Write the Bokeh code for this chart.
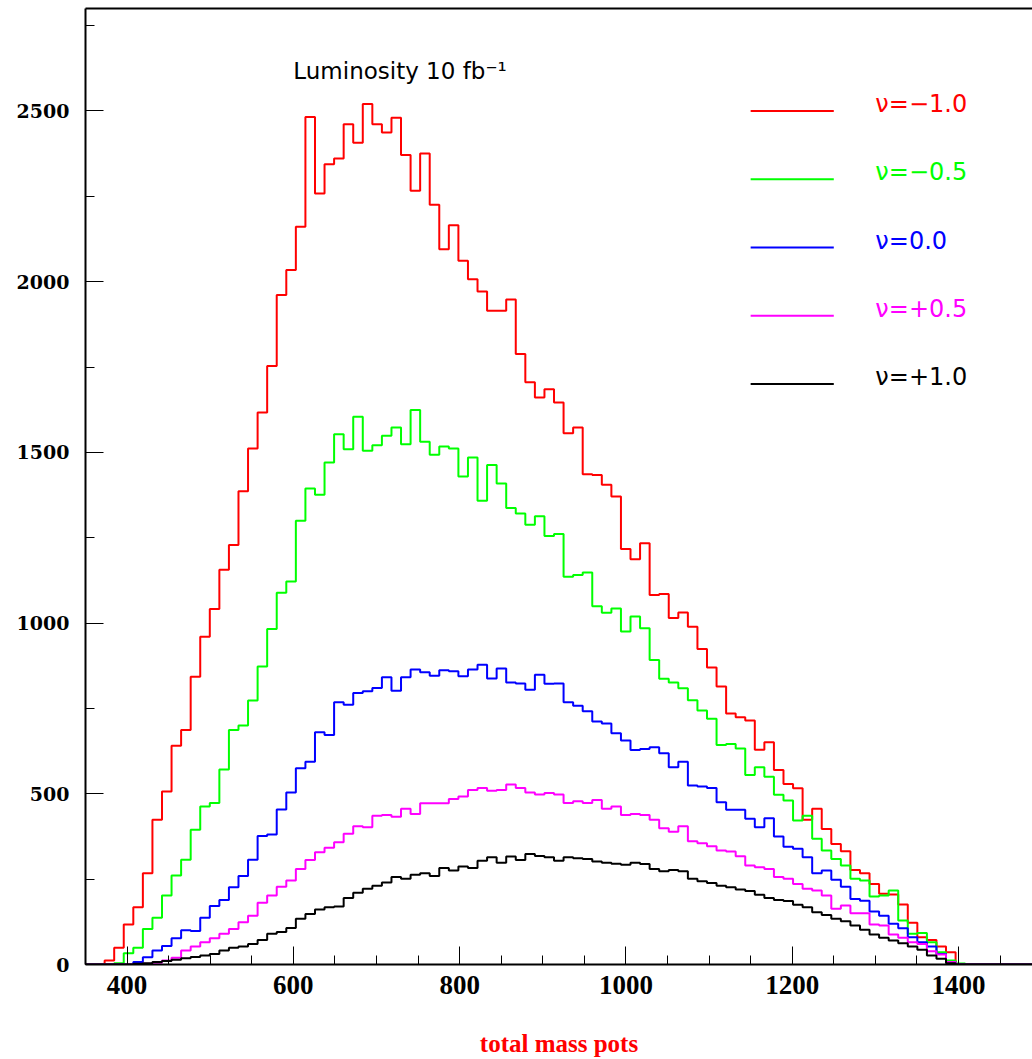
import numpy as np
from bokeh.plotting import figure
from bokeh.models import Label, SingleIntervalTicker, FixedTicker, Range1d, LinearAxis
from bokeh.embed import file_html
from bokeh.resources import INLINE
from bokeh.core.properties import value

# ---------------- data ----------------
# histogram: 100 bins of width 11.5 from 350 to 1500; values listed from bin 2 (edge 373) to bin 91
hist_lo = 350.0
hist_hi = 1500.0
n_bins = 100
first_bin = 2

nu_labels = ["\u03bd=\u22121.0", "\u03bd=\u22120.5", "\u03bd=0.0", "\u03bd=+0.5", "\u03bd=+1.0"]

counts_m10 = [12, 49, 117, 168, 267, 424, 507, 641, 687, 843, 960, 1041, 1156, 1229, 1386, 1511, 1617,
              1753, 1961, 2034, 2161, 2482, 2258, 2344, 2361, 2461, 2407, 2520, 2461, 2437, 2480, 2371,
              2266, 2375, 2225, 2095, 2165, 2061, 2007, 1971, 1915, 1915, 1948, 1788, 1705, 1661, 1685,
              1646, 1556, 1573, 1436, 1434, 1405, 1371, 1217, 1187, 1234, 1082, 1085, 1015, 1031, 989,
              924, 870, 814, 735, 724, 715, 629, 651, 570, 529, 516, 424, 456, 397, 353, 332, 277, 267,
              236, 207, 205, 176, 122, 80, 72, 53, 36, 0]
counts_m05 = [0, 4, 33, 49, 104, 137, 202, 261, 307, 395, 463, 473, 571, 687, 700, 773, 873, 983, 1089,
              1122, 1300, 1394, 1376, 1470, 1553, 1509, 1604, 1505, 1521, 1549, 1573, 1524, 1624, 1531,
              1493, 1517, 1511, 1429, 1485, 1358, 1463, 1409, 1337, 1321, 1288, 1313, 1255, 1261, 1136,
              1141, 1148, 1049, 1030, 1043, 975, 1019, 985, 892, 837, 826, 809, 774, 744, 720, 643, 646,
              633, 555, 578, 550, 497, 480, 422, 436, 368, 334, 309, 290, 251, 246, 199, 202, 217, 129,
              90, 92, 65, 36, 12, 3]
counts_00 = [0, 0, 0, 7, 21, 41, 54, 77, 100, 98, 137, 171, 189, 226, 259, 307, 376, 381, 454, 504, 575,
             594, 680, 672, 768, 761, 795, 800, 810, 841, 802, 841, 864, 856, 846, 862, 859, 844, 864,
             878, 838, 867, 826, 823, 805, 849, 822, 823, 768, 758, 742, 712, 706, 677, 656, 628, 631,
             636, 619, 578, 594, 524, 521, 517, 475, 453, 453, 427, 402, 428, 375, 345, 339, 314, 267,
             275, 248, 228, 192, 187, 155, 143, 119, 106, 80, 65, 53, 31, 7, 0]
counts_p05 = [0, 0, 0, 0, 2, 5, 12, 20, 41, 53, 65, 77, 90, 104, 124, 143, 181, 202, 228, 246, 280, 306,
              329, 342, 358, 383, 405, 402, 436, 438, 433, 456, 441, 472, 472, 472, 485, 492, 511, 517,
              509, 511, 527, 517, 504, 498, 502, 498, 473, 478, 473, 482, 456, 463, 438, 441, 438, 424,
              399, 389, 405, 361, 355, 346, 334, 331, 317, 290, 285, 280, 256, 251, 236, 222, 217, 202,
              163, 173, 150, 150, 117, 114, 88, 78, 65, 60, 39, 29, 7, 0]
counts_p10 = [0, 0, 0, 2, 4, 7, 10, 14, 18, 22, 26, 31, 41, 49, 53, 60, 72, 90, 95, 107, 134, 148, 161,
              168, 170, 195, 210, 222, 231, 240, 256, 251, 263, 267, 259, 283, 275, 287, 283, 304, 314,
              298, 316, 306, 324, 318, 314, 304, 314, 311, 309, 302, 298, 295, 292, 298, 294, 280, 273,
              277, 273, 251, 244, 239, 231, 226, 220, 215, 204, 195, 189, 186, 175, 168, 153, 145, 134,
              127, 114, 102, 88, 78, 70, 62, 53, 43, 26, 17, 4, 0]

series = [counts_m10, counts_m05, counts_00, counts_p05, counts_p10]
colors = ["#ff0000", "#00ff00", "#0000ff", "#ff00ff", "#000000"]

# ---------------- figure ----------------
p = figure(width=1032, height=1059, x_range=Range1d(350, 1489), y_range=Range1d(0, 2800),
           output_backend="svg", toolbar_location=None,
           min_border_left=85, min_border_right=0, min_border_top=8, min_border_bottom=95)
p.grid.visible = False
p.outline_line_color = None
p.background_fill_color = "white"
p.border_fill_color = "white"

edges = np.linspace(hist_lo, hist_hi, n_bins + 1)
for vals, col in zip(series, colors):
    full = np.zeros(n_bins)
    full[first_bin:first_bin + len(vals)] = vals
    xs = np.repeat(edges, 2)
    ys = np.concatenate([[0.0], np.repeat(full, 2), [0.0]])
    p.line(xs, ys, line_color=col, line_width=2)

# legend
leg_y = [2500, 2300, 2100, 1900, 1700]
p.segment(x0=[1150] * 5, y0=leg_y, x1=[1250] * 5, y1=leg_y, line_color=colors, line_width=2)
p.text(x=[1300] * 5, y=leg_y, text=nu_labels, text_color=colors,
       text_font=value("DejaVu Sans"), text_font_size="24px", text_baseline="alphabetic",
       text_align="left", y_offset=-7)

p.add_layout(Label(x=600, y=2600, text="Luminosity 10 fb\u207b\u00b9", text_font="DejaVu Sans",
                   text_font_size="23px", text_color="black", text_baseline="alphabetic",
                   y_offset=6))

# axes
p.xaxis.ticker = SingleIntervalTicker(interval=200, num_minor_ticks=4)
p.yaxis.ticker = SingleIntervalTicker(interval=500, num_minor_ticks=2)
for ax in (p.xaxis[0], p.yaxis[0]):
    ax.axis_line_color = "black"
    ax.axis_line_width = 2
    ax.major_tick_in = 18
    ax.major_tick_out = 0
    ax.minor_tick_in = 9
    ax.minor_tick_out = 0
    ax.major_tick_line_color = "black"
    ax.minor_tick_line_color = "black"
    ax.major_tick_line_width = 1
    ax.minor_tick_line_width = 1
    ax.major_label_text_color = "black"
    ax.major_label_text_font_style = "bold"

p.yaxis.major_label_text_font = "DejaVu Serif"
p.yaxis.major_label_text_font_size = "19px"
p.yaxis.major_label_standoff = 16
p.xaxis.major_label_text_font = "Liberation Serif"
p.xaxis.major_label_text_font_size = "27px"
p.xaxis.major_label_standoff = 11

p.xaxis.axis_label = "total mass pots"
p.xaxis.axis_label_text_font = "Liberation Serif"
p.xaxis.axis_label_text_font_style = "bold"
p.xaxis.axis_label_text_font_size = "25px"
p.xaxis.axis_label_text_color = "#ff0000"
p.xaxis.axis_label_standoff = 33

# top frame line
top = LinearAxis(ticker=FixedTicker(ticks=[]), axis_line_color="black", axis_line_width=2,
                 major_tick_in=0, major_tick_out=0, minor_tick_in=0, minor_tick_out=0,
                 major_label_standoff=0, major_label_text_font_size="0px")
p.add_layout(top, "above")

open("out.html", "w").write(file_html(p, INLINE))
